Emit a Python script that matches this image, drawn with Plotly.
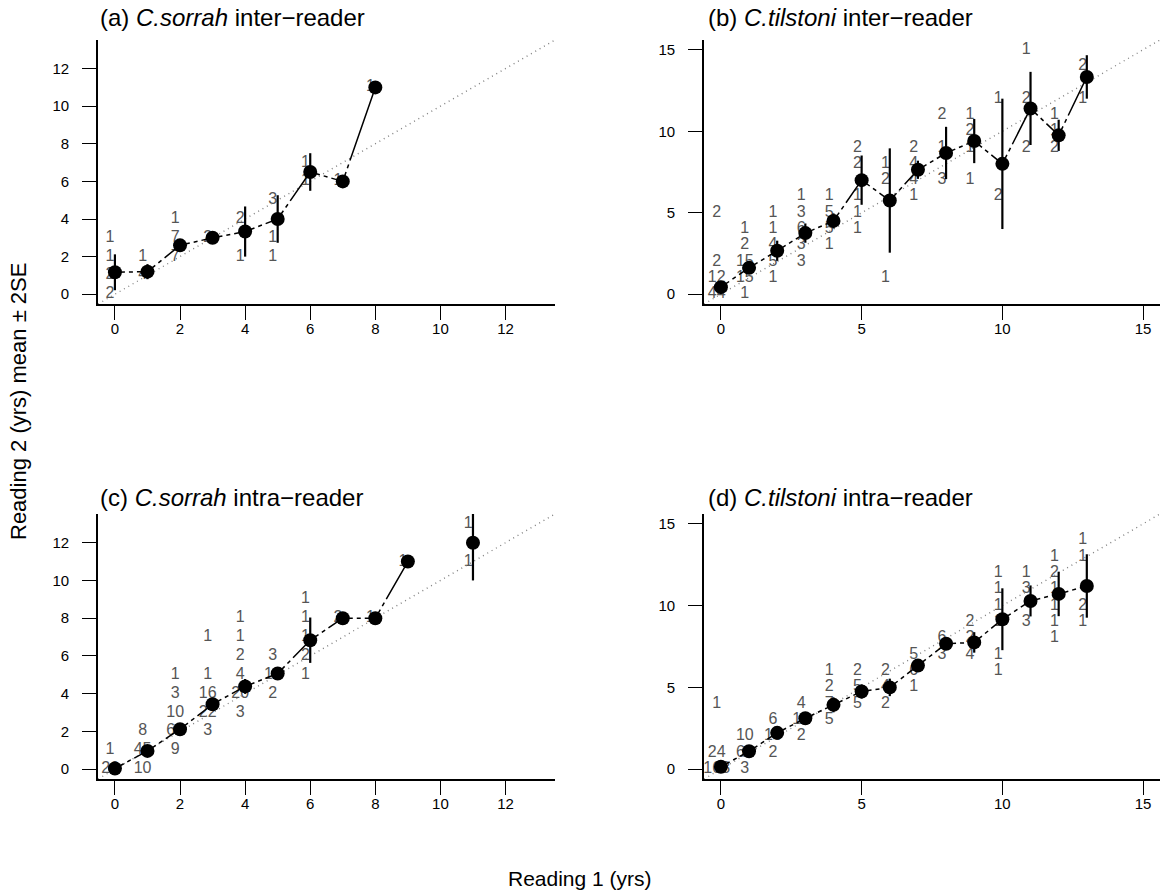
import numpy as np
import plotly.graph_objects as go

# ---------------- data: counts of (reading 1, reading 2) pairs ----------------
A_R1 = [0, 0, 0, 0, 1, 1, 2, 2, 2, 3, 4, 4, 5, 5, 5, 6, 6, 7, 8]
A_R2 = [0, 1, 2, 3, 1, 2, 2, 3, 4, 3, 2, 4, 2, 3, 5, 6, 7, 6, 11]
A_N = [2, 2, 1, 1, 4, 1, 7, 7, 1, 2, 1, 2, 1, 1, 3, 1, 1, 1, 1]

B_R1 = [0, 0, 0, 0, 1, 1, 1, 1, 1, 2, 2, 2, 2, 2, 3, 3, 3, 3, 3, 4, 4, 4, 4,
        5, 5, 5, 5, 5, 6, 6, 6, 7, 7, 7, 7, 8, 8, 8, 9, 9, 9, 9, 10, 10,
        11, 11, 11, 12, 12, 12, 13, 13]
B_R2 = [0, 1, 2, 5, 0, 1, 2, 3, 4, 1, 2, 3, 4, 5, 2, 3, 4, 5, 6, 3, 4, 5, 6,
        4, 5, 6, 8, 9, 1, 7, 8, 6, 7, 8, 9, 7, 9, 11, 7, 9, 10, 11, 6, 12,
        9, 12, 15, 9, 10, 11, 12, 14]
B_N = [44, 12, 2, 2, 1, 15, 15, 2, 1, 1, 5, 4, 1, 1, 3, 3, 6, 3, 1, 1, 5, 5, 1,
       1, 1, 1, 2, 2, 1, 2, 1, 1, 4, 4, 2, 3, 1, 2, 1, 1, 2, 1, 2, 1,
       2, 2, 1, 2, 1, 1, 1, 2]

C_R1 = [0, 0, 1, 1, 1, 2, 2, 2, 2, 2, 3, 3, 3, 3, 3, 4, 4, 4, 4, 4, 4,
        5, 5, 5, 6, 6, 6, 6, 6, 7, 8, 9, 11, 11]
C_R2 = [0, 1, 0, 1, 2, 1, 2, 3, 4, 5, 2, 3, 4, 5, 7, 3, 4, 5, 6, 7, 8,
        4, 5, 6, 5, 6, 7, 8, 9, 8, 8, 11, 11, 13]
C_N = [26, 1, 10, 45, 8, 9, 62, 10, 3, 1, 3, 22, 16, 1, 1, 3, 20, 4, 2, 1, 1,
       2, 10, 3, 1, 2, 1, 1, 1, 2, 1, 1, 1, 1]

D_R1 = [0, 0, 0, 1, 1, 1, 2, 2, 2, 3, 3, 3, 4, 4, 4, 4, 5, 5, 5, 6, 6, 6,
        7, 7, 7, 8, 8, 9, 9, 9, 10, 10, 10, 10, 10, 10, 11, 11, 11,
        12, 12, 12, 12, 12, 12, 13, 13, 13, 13]
D_R2 = [0, 1, 4, 0, 1, 2, 1, 2, 3, 2, 3, 4, 3, 4, 5, 6, 4, 5, 6, 4, 5, 6,
        5, 6, 7, 7, 8, 7, 8, 9, 6, 7, 9, 10, 11, 12, 9, 11, 12,
        8, 9, 10, 11, 12, 13, 9, 10, 13, 14]
D_N = [163, 24, 1, 3, 60, 10, 2, 10, 6, 2, 12, 4, 5, 7, 2, 1, 5, 5, 2, 2, 4, 2,
       1, 6, 5, 3, 6, 4, 2, 2, 1, 1, 1, 1, 1, 1, 3, 3, 1,
       1, 1, 1, 1, 2, 1, 1, 2, 1, 1]

TICKS_SORRAH = [0, 2, 4, 6, 8, 10, 12]
TICKS_TILSTONI = [0, 5, 10, 15]

TITLES = ["(a) <i>C.sorrah</i> inter\u2212reader",
          "(b) <i>C.tilstoni</i> inter\u2212reader",
          "(c) <i>C.sorrah</i> intra\u2212reader",
          "(d) <i>C.tilstoni</i> intra\u2212reader"]

# ---------------- layout geometry ----------------
W, H = 1160, 896
FONT = "Liberation Sans, Arial, sans-serif"
XDOM = [[98 / W, 555 / W], [704 / W, 1.0]]
YDOM = [[1 - 304 / H, 1 - 40 / H], [1 - 779 / H, 1 - 514 / H]]

panels = [
    dict(r1=A_R1, r2=A_R2, n=A_N, lim=13, ticks=TICKS_SORRAH, col=0, row=0),
    dict(r1=B_R1, r2=B_R2, n=B_N, lim=15, ticks=TICKS_TILSTONI, col=1, row=0),
    dict(r1=C_R1, r2=C_R2, n=C_N, lim=13, ticks=TICKS_SORRAH, col=0, row=1),
    dict(r1=D_R1, r2=D_R2, n=D_N, lim=15, ticks=TICKS_TILSTONI, col=1, row=1),
]


def summarize(r1, r2, n):
    r1 = np.asarray(r1, float)
    r2 = np.asarray(r2, float)
    n = np.asarray(n, float)
    xs, means, errs = [], [], []
    for x in sorted(set(r1)):
        m = r1 == x
        v, w = r2[m], n[m]
        N = w.sum()
        mu = (v * w).sum() / N
        if N > 1:
            sd = np.sqrt((w * (v - mu) ** 2).sum() / (N - 1))
            e = 2 * sd / np.sqrt(N)
        else:
            e = 0.0
        xs.append(x)
        means.append(mu)
        errs.append(e)
    return np.array(xs), np.array(means), np.array(errs)


fig = go.Figure()
layout = dict(width=W, height=H, paper_bgcolor="white", plot_bgcolor="white",
              margin=dict(l=0, r=0, t=0, b=0), showlegend=False,
              font=dict(family=FONT, size=15, color="black"))

for i, p in enumerate(panels):
    k = "" if i == 0 else str(i + 1)
    xa, ya = "x" + k, "y" + k
    pad = 0.04 * p["lim"]
    rng = [-pad, p["lim"] + pad]
    axis_common = dict(range=rng, tickvals=p["ticks"], showline=True, linecolor="black",
                       linewidth=1.6, ticks="outside", ticklen=14, tickwidth=1.4,
                       tickcolor="black", showgrid=False, zeroline=False, mirror=False,
                       tickfont=dict(family=FONT, size=15, color="black"), fixedrange=True)
    layout["xaxis" + k] = dict(axis_common, domain=XDOM[p["col"]], anchor=ya,
                               ticklabelstandoff=-4)
    layout["yaxis" + k] = dict(axis_common, domain=YDOM[p["row"]], anchor=xa,
                               ticklabelstandoff=10)

    # count labels
    fig.add_trace(go.Scatter(
        x=np.asarray(p["r1"], float) - 0.15, y=p["r2"], mode="text",
        text=[str(v) for v in p["n"]], textposition="middle center",
        textfont=dict(family=FONT, size=16, color="#555555"),
        xaxis=xa, yaxis=ya, hoverinfo="skip", cliponaxis=False))

    # 1:1 line
    fig.add_trace(go.Scatter(
        x=rng, y=rng, mode="lines", line=dict(color="#808080", width=1.4, dash="1px,4px"),
        xaxis=xa, yaxis=ya, hoverinfo="skip"))

    xs, mu, err = summarize(p["r1"], p["r2"], p["n"])
    # connecting segments between consecutive ages
    for j in range(len(xs) - 1):
        if xs[j + 1] - xs[j] == 1:
            fig.add_trace(go.Scatter(
                x=xs[j:j + 2], y=mu[j:j + 2], mode="lines",
                line=dict(color="black", width=1.5, dash="10px,4px,4px,4px,300px,0px"),
                xaxis=xa, yaxis=ya, hoverinfo="skip"))

    # means +/- 2SE
    fig.add_trace(go.Scatter(
        x=xs, y=mu, mode="markers",
        marker=dict(color="black", size=14, line=dict(width=0)),
        error_y=dict(type="data", array=err, symmetric=True, color="black",
                     thickness=2.2, width=0),
        xaxis=xa, yaxis=ya))

annotations = []
title_pos = [(98, 17), (706, 17), (98, 497), (706, 497)]
for t, (px, py) in zip(TITLES, title_pos):
    annotations.append(dict(text=t, xref="paper", yref="paper", x=px / W, y=1 - py / H,
                            xanchor="left", yanchor="middle", showarrow=False,
                            font=dict(family=FONT, size=24, color="black")))
annotations.append(dict(text="Reading 1 (yrs)", xref="paper", yref="paper",
                        x=580 / W, y=1 - 878 / H, xanchor="center", yanchor="middle",
                        showarrow=False, font=dict(family=FONT, size=21, color="black")))
annotations.append(dict(text="Reading 2 (yrs) mean \u00b1 2SE", xref="paper", yref="paper",
                        x=18 / W, y=1 - 402 / H, xanchor="center", yanchor="middle",
                        textangle=-90, showarrow=False,
                        font=dict(family=FONT, size=22, color="black")))
layout["annotations"] = annotations

fig.update_layout(**layout)
fig.write_html("out.html", config={"displayModeBar": False},
               post_script="document.body.style.margin='0px';")
